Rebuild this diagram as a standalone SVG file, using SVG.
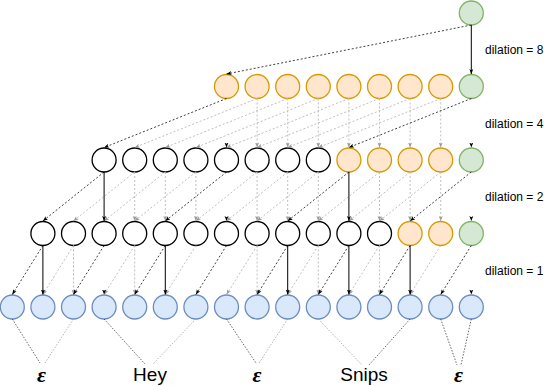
<svg xmlns="http://www.w3.org/2000/svg" width="544" height="386" viewBox="0 0 544 386">
<style>
.w{fill:#ffffff;stroke:#000000;stroke-width:1.3}
.o{fill:#ffe6cc;stroke:#d79b00;stroke-width:1.3}
.g{fill:#d5e8d4;stroke:#82b366;stroke-width:1.3}
.b{fill:#dae8fc;stroke:#6c8ebf;stroke-width:1.3}
.s{fill:none;stroke:#000;stroke-width:1;marker-end:url(#ab)}
.d{fill:none;stroke:#000;stroke-width:0.75;stroke-dasharray:2 2;marker-end:url(#ab)}
.r{fill:none;stroke:#b8b8b8;stroke-width:0.9;stroke-dasharray:2 2;marker-end:url(#ag)}
.h{fill:none;stroke:none;marker-end:url(#ab)}
.l1{fill:none;stroke:#333;stroke-width:0.75;stroke-dasharray:1.5 1.5}
.l2{fill:none;stroke:#999;stroke-width:0.75;stroke-dasharray:1.5 1.5}
.dl{font-family:'Liberation Sans',Arial,sans-serif;font-size:12px;fill:#000}
.lb{font-family:'Liberation Sans',Arial,sans-serif;font-size:19px;fill:#000;text-anchor:middle}
.ep{font-family:'Liberation Serif','DejaVu Serif',serif;font-style:italic;font-weight:bold;font-size:22px;fill:#000;text-anchor:middle}
</style>
<defs>
<marker id="ab" viewBox="0 0 5 5" refX="5" refY="2.5" markerWidth="5" markerHeight="5" orient="auto" markerUnits="userSpaceOnUse"><path d="M0,0.5 L5,2.5 L0,4.5 L1.2,2.5 Z" fill="#000"/></marker>
<marker id="ag" viewBox="0 0 5 5" refX="5" refY="2.5" markerWidth="5" markerHeight="5" orient="auto" markerUnits="userSpaceOnUse"><path d="M0,0.5 L5,2.5 L0,4.5 L1.2,2.5 Z" fill="#999"/></marker>
</defs>
<g id="row1"><circle id="n1_15" class="g" cx="471.3" cy="13" r="12"/></g>
<g id="row2">
<circle id="n2_7" class="o" cx="226.5" cy="86.5" r="12"/>
<circle id="n2_8" class="o" cx="257.1" cy="86.5" r="12"/>
<circle id="n2_9" class="o" cx="287.7" cy="86.5" r="12"/>
<circle id="n2_10" class="o" cx="318.3" cy="86.5" r="12"/>
<circle id="n2_11" class="o" cx="348.9" cy="86.5" r="12"/>
<circle id="n2_12" class="o" cx="379.5" cy="86.5" r="12"/>
<circle id="n2_13" class="o" cx="410.1" cy="86.5" r="12"/>
<circle id="n2_14" class="o" cx="440.7" cy="86.5" r="12"/>
<circle id="n2_15" class="g" cx="471.3" cy="86.5" r="12"/>
</g>
<g id="row3">
<circle id="n3_3" class="w" cx="104.1" cy="160" r="12"/>
<circle id="n3_4" class="w" cx="134.7" cy="160" r="12"/>
<circle id="n3_5" class="w" cx="165.3" cy="160" r="12"/>
<circle id="n3_6" class="w" cx="195.9" cy="160" r="12"/>
<circle id="n3_7" class="w" cx="226.5" cy="160" r="12"/>
<circle id="n3_8" class="w" cx="257.1" cy="160" r="12"/>
<circle id="n3_9" class="w" cx="287.7" cy="160" r="12"/>
<circle id="n3_10" class="w" cx="318.3" cy="160" r="12"/>
<circle id="n3_11" class="o" cx="348.9" cy="160" r="12"/>
<circle id="n3_12" class="o" cx="379.5" cy="160" r="12"/>
<circle id="n3_13" class="o" cx="410.1" cy="160" r="12"/>
<circle id="n3_14" class="o" cx="440.7" cy="160" r="12"/>
<circle id="n3_15" class="g" cx="471.3" cy="160" r="12"/>
</g>
<g id="row4">
<circle id="n4_1" class="w" cx="42.9" cy="233.5" r="12"/>
<circle id="n4_2" class="w" cx="73.5" cy="233.5" r="12"/>
<circle id="n4_3" class="w" cx="104.1" cy="233.5" r="12"/>
<circle id="n4_4" class="w" cx="134.7" cy="233.5" r="12"/>
<circle id="n4_5" class="w" cx="165.3" cy="233.5" r="12"/>
<circle id="n4_6" class="w" cx="195.9" cy="233.5" r="12"/>
<circle id="n4_7" class="w" cx="226.5" cy="233.5" r="12"/>
<circle id="n4_8" class="w" cx="257.1" cy="233.5" r="12"/>
<circle id="n4_9" class="w" cx="287.7" cy="233.5" r="12"/>
<circle id="n4_10" class="w" cx="318.3" cy="233.5" r="12"/>
<circle id="n4_11" class="w" cx="348.9" cy="233.5" r="12"/>
<circle id="n4_12" class="w" cx="379.5" cy="233.5" r="12"/>
<circle id="n4_13" class="o" cx="410.1" cy="233.5" r="12"/>
<circle id="n4_14" class="o" cx="440.7" cy="233.5" r="12"/>
<circle id="n4_15" class="g" cx="471.3" cy="233.5" r="12"/>
</g>
<g id="row5">
<circle id="n5_0" class="b" cx="12.3" cy="307" r="12"/>
<circle id="n5_1" class="b" cx="42.9" cy="307" r="12"/>
<circle id="n5_2" class="b" cx="73.5" cy="307" r="12"/>
<circle id="n5_3" class="b" cx="104.1" cy="307" r="12"/>
<circle id="n5_4" class="b" cx="134.7" cy="307" r="12"/>
<circle id="n5_5" class="b" cx="165.3" cy="307" r="12"/>
<circle id="n5_6" class="b" cx="195.9" cy="307" r="12"/>
<circle id="n5_7" class="b" cx="226.5" cy="307" r="12"/>
<circle id="n5_8" class="b" cx="257.1" cy="307" r="12"/>
<circle id="n5_9" class="b" cx="287.7" cy="307" r="12"/>
<circle id="n5_10" class="b" cx="318.3" cy="307" r="12"/>
<circle id="n5_11" class="b" cx="348.9" cy="307" r="12"/>
<circle id="n5_12" class="b" cx="379.5" cy="307" r="12"/>
<circle id="n5_13" class="b" cx="410.1" cy="307" r="12"/>
<circle id="n5_14" class="b" cx="440.7" cy="307" r="12"/>
<circle id="n5_15" class="b" cx="471.3" cy="307" r="12"/>
</g>
<g id="connectors">
<path class="s" d="M471.3,25 V74"/>
<path class="d" d="M471.3,25 L226.5,74"/>
<path class="r" d="M257.1,98.5 V147.5"/>
<path class="r" d="M287.7,98.5 V147.5"/>
<path class="r" d="M318.3,98.5 V147.5"/>
<path class="r" d="M348.9,98.5 V147.5"/>
<path class="r" d="M379.5,98.5 V147.5"/>
<path class="r" d="M410.1,98.5 V147.5"/>
<path class="r" d="M440.7,98.5 V147.5"/>
<path class="r" d="M257.1,98.5 L134.7,147.5"/>
<path class="r" d="M287.7,98.5 L165.3,147.5"/>
<path class="r" d="M318.3,98.5 L195.9,147.5"/>
<path class="r" d="M348.9,98.5 L226.5,147.5"/>
<path class="r" d="M379.5,98.5 L257.1,147.5"/>
<path class="r" d="M410.1,98.5 L287.7,147.5"/>
<path class="r" d="M440.7,98.5 L318.3,147.5"/>
<path class="d" d="M226.5,98.5 L104.1,147.5"/>
<path class="d" d="M471.3,98.5 L348.9,147.5"/>
<path class="h" d="M226.5,142 V147.5"/>
<path class="h" d="M471.3,142 V147.5"/>
<path class="r" d="M134.7,172 V221"/>
<path class="r" d="M165.3,172 V221"/>
<path class="r" d="M195.9,172 V221"/>
<path class="r" d="M257.1,172 V221"/>
<path class="r" d="M287.7,172 V221"/>
<path class="r" d="M318.3,172 V221"/>
<path class="r" d="M379.5,172 V221"/>
<path class="r" d="M410.1,172 V221"/>
<path class="r" d="M440.7,172 V221"/>
<path class="r" d="M134.7,172 L73.5,221"/>
<path class="r" d="M165.3,172 L104.1,221"/>
<path class="r" d="M195.9,172 L134.7,221"/>
<path class="r" d="M257.1,172 L195.9,221"/>
<path class="r" d="M287.7,172 L226.5,221"/>
<path class="r" d="M318.3,172 L257.1,221"/>
<path class="r" d="M379.5,172 L318.3,221"/>
<path class="r" d="M410.1,172 L348.9,221"/>
<path class="r" d="M440.7,172 L379.5,221"/>
<path class="s" d="M104.1,172 V221"/>
<path class="s" d="M348.9,172 V221"/>
<path class="h" d="M226.5,215 V221"/>
<path class="h" d="M471.3,215 V221"/>
<path class="d" d="M104.1,172 L42.9,221"/>
<path class="d" d="M226.5,172 L165.3,221"/>
<path class="d" d="M348.9,172 L287.7,221"/>
<path class="d" d="M471.3,172 L410.1,221"/>
<path class="r" d="M73.5,245.5 V294.5"/>
<path class="r" d="M134.7,245.5 V294.5"/>
<path class="r" d="M257.1,245.5 V294.5"/>
<path class="r" d="M318.3,245.5 V294.5"/>
<path class="r" d="M379.5,245.5 V294.5"/>
<path class="r" d="M73.5,245.5 L42.9,294.5"/>
<path class="r" d="M134.7,245.5 L104.1,294.5"/>
<path class="r" d="M195.9,245.5 L165.3,294.5"/>
<path class="r" d="M257.1,245.5 L226.5,294.5"/>
<path class="r" d="M318.3,245.5 L287.7,294.5"/>
<path class="r" d="M379.5,245.5 L348.9,294.5"/>
<path class="r" d="M440.7,245.5 L410.1,294.5"/>
<path class="s" d="M42.9,245.5 V294.5"/>
<path class="s" d="M165.3,245.5 V294.5"/>
<path class="s" d="M287.7,245.5 V294.5"/>
<path class="s" d="M348.9,245.5 V294.5"/>
<path class="s" d="M410.1,245.5 V294.5"/>
<path class="h" d="M104.1,289 V294.5"/>
<path class="h" d="M471.3,289 V294.5"/>
<path class="d" d="M42.9,245.5 L12.3,294.5"/>
<path class="d" d="M104.1,245.5 L73.5,294.5"/>
<path class="d" d="M165.3,245.5 L134.7,294.5"/>
<path class="d" d="M226.5,245.5 L195.9,294.5"/>
<path class="d" d="M287.7,245.5 L257.1,294.5"/>
<path class="d" d="M348.9,245.5 L318.3,294.5"/>
<path class="d" d="M410.1,245.5 L379.5,294.5"/>
<path class="d" d="M471.3,245.5 L440.7,294.5"/>
<path class="l1" d="M12.3,319 L40,363"/>
<path class="l2" d="M73.5,319 L45,363"/>
<path class="l1" d="M104.1,319 L145,364"/>
<path class="l2" d="M195.9,319 L153,364"/>
<path class="l1" d="M226.5,319 L256,363"/>
<path class="l2" d="M287.7,319 L259,363"/>
<path class="l2" d="M318.3,319 L362,365"/>
<path class="l1" d="M410.1,319 L369,365"/>
<path class="l1" d="M440.7,319 L457,365"/>
<path class="l1" d="M471.3,319 L461,365"/>
</g>
<g id="labels">
<text class="dl" x="485" y="54">dilation = 8</text>
<text class="dl" x="485" y="128">dilation = 4</text>
<text class="dl" x="485" y="201">dilation = 2</text>
<text class="dl" x="485" y="275">dilation = 1</text>
<text class="ep" x="41.5" y="382">ε</text>
<text class="lb" x="150" y="381">Hey</text>
<text class="ep" x="257" y="382">ε</text>
<text class="lb" x="364" y="381">Snips</text>
<text class="ep" x="458.5" y="382">ε</text>
</g>
</svg>
